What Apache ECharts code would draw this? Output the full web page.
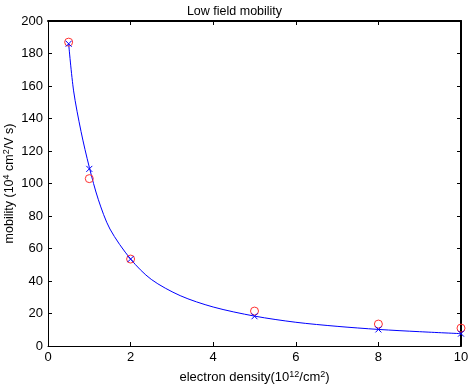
<!DOCTYPE html>
<html>
<head>
<meta charset="utf-8">
<script src="https://cdn.jsdelivr.net/npm/echarts@6/dist/echarts.min.js"></script>
<style>
  html, body { margin: 0; padding: 0; background: #fff; }
  #chart { width: 469px; height: 385px; }
</style>
</head>
<body>
<div id="chart"></div>
<script>
// electron density (10^12/cm^2)
const densities = [0.5, 1, 2, 5, 8, 10];
// measured (red circles) and fitted (blue crosses) mobility
const measured = [187, 103, 53.5, 21.5, 13.5, 11];
const fitted = [186, 109, 53.5, 18.3, 10.2, 7.6];
// points
const curveX = [0.5, 0.62, 0.8, 1, 1.22, 1.5, 2, 2.5, 3.2, 4, 5, 6, 7, 8, 9, 10];
const curveY = [186, 157, 132, 110, 90, 72, 53.5, 41, 31, 24, 18.4, 14.6, 12.1, 10.2, 8.8, 7.6];

const font = 'Liberation Sans, Arial, sans-serif';
const crossPath = 'path://M0,0L10,10M10,0L0,10';
const pairs = (xs, ys) => xs.map((x, i) => [x, ys[i]]);

const chart = echarts.init(document.getElementById('chart'));

// fresh copy per axis so the axes don't share option objects
function axisStyle(w) {
    return {
        axisLine: { show: true, onZero: false, lineStyle: { color: '#000', width: w } },
        axisTick: { show: true, inside: true, length: 4, lineStyle: { color: '#000', width: 1 } },
        splitLine: { show: false }
    };
}

const nameRich = size => ({
    a: { fontFamily: font, fontSize: size, color: '#000' },
    s: { fontFamily: font, fontSize: 9, color: '#000', verticalAlign: 'top', padding: [0, 0, 6, 0] }
});

chart.setOption({
    animation: false,
    backgroundColor: '#fff',
    title: {
        text: 'Low field mobility', left: 'center', top: 0,
        textStyle: { fontFamily: font, fontSize: 12.5, fontWeight: 'normal', color: '#000' }
    },
    grid: { left: 48, right: 8, top: 21, bottom: 39, outerBoundsMode: 'none' },
    xAxis: [
        Object.assign(axisStyle(1), {
            type: 'value', min: 0, max: 10, interval: 2, position: 'bottom',
            name: '{a|electron density(10}{s|12}{a|/cm}{s|2}{a|)}',
            nameLocation: 'middle', nameGap: 24, nameMoveOverlap: false,
            nameTextStyle: { rich: nameRich(13) },
            axisLabel: { fontFamily: font, fontSize: 13, color: '#000', margin: 5 }
        }),
        // mirrored box axis on top
        Object.assign(axisStyle(2), {
            type: 'value', min: 0, max: 10, interval: 2, position: 'top',
            axisLabel: { show: false }
        })
    ],
    yAxis: [
        Object.assign(axisStyle(1), {
            type: 'value', min: 0, max: 200, interval: 20, position: 'left',
            name: '{a|mobility (10}{s|4}{a| cm}{s|2}{a|/V s)}',
            nameLocation: 'middle', nameGap: 31, nameMoveOverlap: false,
            nameTextStyle: { rich: nameRich(12.5) },
            axisLabel: { fontFamily: font, fontSize: 13, color: '#000', margin: 5 }
        }),
        // mirrored box axis on the right
        Object.assign(axisStyle(2), {
            type: 'value', min: 0, max: 200, interval: 20, position: 'right',
            axisLabel: { show: false }
        })
    ],
    series: [
        {
            name: 'fit curve', type: 'line', data: pairs(curveX, curveY),
            smooth: 0.3, showSymbol: false, symbol: 'none',
            lineStyle: { color: '#0000ff', width: 1 }, z: 2
        },
        {
            name: 'measured', type: 'scatter', data: pairs(densities, measured),
            symbol: 'circle', symbolSize: 8,
            itemStyle: { color: 'transparent', borderColor: '#ff3030', borderWidth: 1, opacity: 1 }, z: 3
        },
        {
            name: 'fitted', type: 'scatter', data: pairs(densities, fitted),
            symbol: crossPath, symbolSize: 6,
            itemStyle: { color: 'transparent', borderColor: '#0000ff', borderWidth: 1, opacity: 1 }, z: 4
        },
        {
            // keeps the mirrored axes tied to the grid
            name: 'box', type: 'line', xAxisIndex: 1, yAxisIndex: 1,
            data: [[0, 0]], symbol: 'none', lineStyle: { opacity: 0 }, silent: true
        }
    ]
});
</script>
</body>
</html>
